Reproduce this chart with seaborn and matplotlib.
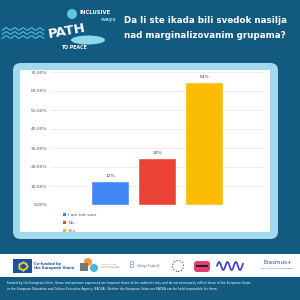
import numpy as np
import pandas as pd
import matplotlib
matplotlib.use('Agg')
import matplotlib.pyplot as plt
from matplotlib.patches import FancyBboxPatch, Rectangle, Patch, Circle, Ellipse
import seaborn as sns

categories = ['I am not sure', 'No', 'Yes']
values = [12, 24, 64]
colors = ['#4285F4', '#EA4335', '#FBBC04']
yticks = [0, 10, 20, 30, 40, 50, 60, 70]
title = 'Da li ste ikada bili svedok nasilja\nnad marginalizovanim grupama?'
footer = ('Funded by the European Union. Views and opinions expressed are however those of the author(s) only and do not necessarily reflect those of the European Union\n'
          'or the European Education and Culture Executive Agency (EACEA). Neither the European Union nor EACEA can be held responsible for them.')

sns.set_style('white')
plt.rcParams['font.family'] = ['DejaVu Sans']

bg = '#135a80'
fig = plt.figure(figsize=(3, 3), dpi=100, facecolor=bg)

def px(x, y, w, h):
    # pixel box (top-left origin) -> figure fraction
    return [x / 300, 1 - (y + h) / 300, w / 300, h / 300]

# light blue frame and white card
frame = FancyBboxPatch((13 / 300, 1 - 239 / 300), 265 / 300, 176 / 300,
                       boxstyle='round,pad=0,rounding_size=0.025',
                       transform=fig.transFigure, fc='#a3d9ee', ec='none', zorder=-2)
fig.patches.append(frame)
card = Rectangle((20 / 300, 1 - 232 / 300), 250 / 300, 162 / 300,
                 transform=fig.transFigure, fc='white', ec='none', zorder=-1)
fig.patches.append(card)

# bottom white strip with partner logos
strip = Rectangle((0, 1 - 277 / 300), 1, 23 / 300, transform=fig.transFigure,
                  fc='white', ec='none', zorder=-1)
fig.patches.append(strip)

# title
fig.text(205 / 300, 1 - 28 / 300, title, color='white', fontsize=6.3,
         fontweight='bold', ha='center', va='center', linespacing=1.75)

# header logo (rough)
wx = np.linspace(2, 44, 200)
for k in range(3):
    fig.add_artist(plt.Line2D(wx / 300, 1 - (29 + 4 * k + 1.2 * np.sin(wx * 0.75)) / 300,
                              color='#4fc3e0', lw=0.8, transform=fig.transFigure))
fig.patches.append(Ellipse((88 / 300, 1 - 40 / 300), 34 / 300, 9 / 300,
                           transform=fig.transFigure, fc='#8fd8ea', ec='none'))
fig.patches.append(Circle((72 / 300, 1 - 14 / 300), 5 / 300,
                          transform=fig.transFigure, fc='#5fc7de', ec='none'))
fig.text(80 / 300, 1 - 12 / 300, 'INCLUSIVE', color='white', fontsize=3.8,
         fontweight='bold', ha='left', va='center')
fig.text(67 / 300, 1 - 31 / 300, 'PATH', color='white', fontsize=9.5,
         fontweight='bold', ha='center', va='center', rotation=10)
fig.text(101 / 300, 1 - 19 / 300, 'ways', color='#8fd8ea', fontsize=4,
         fontweight='bold', ha='left', va='center')
fig.text(74 / 300, 1 - 47 / 300, 'TO PEACE', color='white', fontsize=3.4,
         fontweight='bold', ha='center', va='center')

# footer logos (rough)
fig.patches.append(Rectangle((13 / 300, 1 - 273 / 300), 19 / 300, 14 / 300,
                             transform=fig.transFigure, fc='#1f4ea8', ec='none'))
ang = np.linspace(0, 2 * np.pi, 13)[:-1]
fig.add_artist(plt.Line2D((22.5 + 4 * np.cos(ang)) / 300, 1 - (266 - 4 * np.sin(ang)) / 300,
                          ls='none', marker='*', ms=1.0, color='#ffdd00',
                          transform=fig.transFigure))
fig.text(34 / 300, 1 - 266 / 300, 'Co-funded by\nthe European Union', color='#1f4ea8',
         fontsize=2.6, fontweight='bold', va='center', ha='left', linespacing=1.3)
fig.patches.append(Circle((88 / 300, 1 - 262 / 300), 4 / 300, transform=fig.transFigure,
                          fc='#f29a38', ec='none'))
fig.patches.append(Circle((94 / 300, 1 - 268 / 300), 4 / 300, transform=fig.transFigure,
                          fc='#46b9d8', ec='none'))
fig.patches.append(Rectangle((80 / 300, 1 - 271 / 300), 8 / 300, 8 / 300,
                             transform=fig.transFigure, fc='#777777', ec='none'))
fig.text(101 / 300, 1 - 266 / 300, 'AGENCY FOR\nDIVERSITY AND\nEU INTEGRATION', color='#888888',
         fontsize=1.6, va='center', ha='left', linespacing=1.2)
fig.text(131 / 300, 1 - 266 / 300, 'B', color='#7aa7de', fontsize=6, va='center', ha='center')
fig.text(137 / 300, 1 - 266 / 300, 'Udruga Studio B', color='#4a6fa5', fontsize=2,
         va='center', ha='left')
fig.patches.append(Circle((178 / 300, 1 - 266 / 300), 5.5 / 300, transform=fig.transFigure,
                          fc='white', ec='#444444', lw=0.8, ls=':'))
fig.patches.append(FancyBboxPatch((194 / 300, 1 - 272 / 300), 16 / 300, 11 / 300,
                                  boxstyle='round,pad=0,rounding_size=0.01',
                                  transform=fig.transFigure, fc='#e23d6e', ec='none'))
fig.patches.append(Rectangle((196 / 300, 1 - 267 / 300), 12 / 300, 2.5 / 300,
                             transform=fig.transFigure, fc='#222222', ec='none'))
sx = np.linspace(217, 243, 100)
fig.add_artist(plt.Line2D(sx / 300, 1 - (266 - 4 * np.sin((sx - 217) * 0.75)) / 300,
                          color='#3a3ad6', lw=1.2, transform=fig.transFigure))
fig.text(278 / 300, 1 - 263 / 300, 'Erasmus+', color='#2b4f9e', fontsize=4,
         ha='center', va='center')
fig.text(278 / 300, 1 - 268.5 / 300, 'Enriching lives, opening minds.', color='#2b4f9e',
         fontsize=1.5, ha='center', va='center')

fig.text(7 / 300, 1 - 286 / 300, footer, color='white', fontsize=2.15, ha='left',
         va='center', linespacing=1.5)

# chart
ax = fig.add_axes(px(50, 72, 215, 133))
ax.set_zorder(5)
df = pd.DataFrame({'answer': categories, 'pct': values})
sns.barplot(data=df, x='answer', y='pct', hue='answer', palette=colors, saturation=1,
            width=0.77, legend=False, ax=ax, edgecolor='white', linewidth=0.3)
for c in ax.containers:
    ax.bar_label(c, labels=[f'{v:.0f}%' for v in c.datavalues], fontsize=3.2,
                 color='#444444', padding=3)
ax.set_xlim(-1.29, 3.29)
ax.set_ylim(0, 70)
ax.set_yticks(yticks)
ax.set_yticklabels([f'{t},00%' for t in yticks], fontsize=3.2, color='#555555')
ax.set_xticks([])
ax.set_xlabel('')
ax.set_ylabel('')
ax.grid(axis='y', color='#e6e6e6', lw=0.5)
ax.set_axisbelow(True)
ax.tick_params(axis='y', length=0, pad=2)
for s in ax.spines.values():
    s.set_visible(False)
ax.axhline(0, color='#cccccc', lw=0.6)

handles = [Patch(fc=c, ec='none') for c in colors]
ax.legend(handles, categories, loc='upper left', bbox_to_anchor=(0.05, -0.045),
          frameon=False, fontsize=3.2, handlelength=0.6, handleheight=0.6,
          handletextpad=0.6, labelspacing=0.9, borderpad=0, labelcolor='#555555')

fig.savefig('out.png', dpi=100, facecolor=bg)
